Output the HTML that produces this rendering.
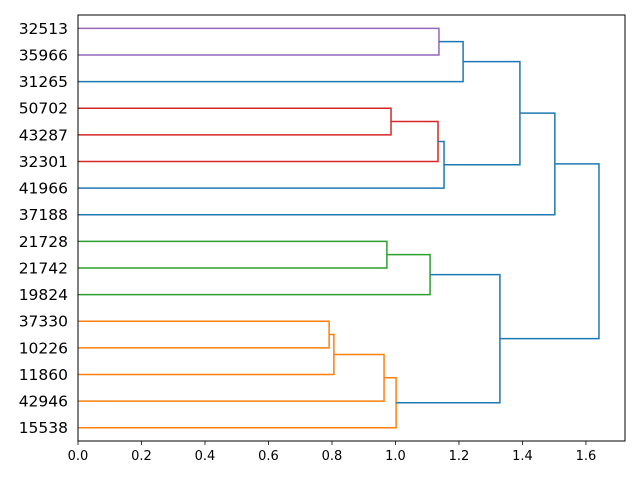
<!DOCTYPE html>
<html><head><meta charset="utf-8"><style>
body{margin:0;background:#fff;}
svg{display:block;font-family:"DejaVu Sans","Liberation Sans",sans-serif;}
</style></head><body>
<svg id="chart" width="640" height="480" viewBox="0 0 640 480"></svg>
<script>
const leafLabels=["32513","35966","31265","50702","43287","32301","41966","37188","21728","21742","19824","37330","10226","11860","42946","15538"];
const mergeLeft=[0,16,3,18,19,17,21,8,23,11,25,26,27,24,22];
const mergeRight=[1,2,4,5,6,20,7,9,10,12,13,14,15,28,29];
const mergeHeight=[1.137,1.213,0.986,1.134,1.153,1.392,1.502,0.973,1.109,0.791,0.806,0.964,1.002,1.329,1.641];
const mergeColor=["#9467bd","#1f77b4","#d62728","#d62728","#1f77b4","#1f77b4","#1f77b4","#2ca02c","#2ca02c","#ff7f0e","#ff7f0e","#ff7f0e","#ff7f0e","#1f77b4","#1f77b4"];
const xTicks=[0,0.2,0.4,0.6,0.8,1.0,1.2,1.4,1.6];

const NS="http://www.w3.org/2000/svg";
const svg=document.getElementById('chart');
const L=78,R=625,T=15,B=441,xMax=1.723;
const xs=v=>L+v/xMax*(R-L);
const ys=p=>T+(p/160)*(B-T);
function mk(t,a){const e=document.createElementNS(NS,t);for(const k in a)e.setAttribute(k,a[k]);svg.appendChild(e);return e;}
const pos=[],hgt=[];
leafLabels.forEach((lab,i)=>{pos.push(5+10*i);hgt.push(0);
 const t=mk('text',{x:L-10,y:ys(5+10*i)+5.5,'text-anchor':'end',fill:'#000'});
 t.style.fontSize='15.5px';
 t.textContent=lab;
 
 
});
mergeLeft.forEach((a,i)=>{
 const b=mergeRight[i],h=mergeHeight[i];
 const p=mk('path',{d:`M${xs(hgt[a])},${ys(pos[a])}H${xs(h)}V${ys(pos[b])}H${xs(hgt[b])}`,fill:'none',stroke:mergeColor[i],'stroke-width':1.5});
 
 
 pos.push((pos[a]+pos[b])/2);hgt.push(h);
});
const fr=mk('rect',{x:L,y:T,width:R-L,height:B-T,fill:'none',stroke:'#000','stroke-width':1});


xTicks.forEach(v=>{
 const ln=mk('line',{x1:xs(v),x2:xs(v),y1:B,y2:B+4,stroke:'#000','stroke-width':0.8});
 
 
 const t=mk('text',{x:xs(v),y:B+19,'text-anchor':'middle',fill:'#000'});
 t.style.fontSize='13px';
 t.textContent=v.toFixed(1);
 
 
});
</script>
</body></html>
